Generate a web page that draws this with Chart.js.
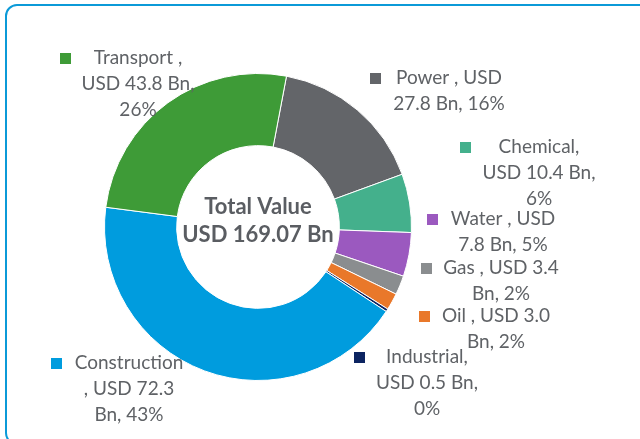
<!DOCTYPE html>
<html>
<head>
<meta charset="utf-8">
<script src="https://cdn.jsdelivr.net/npm/chart.js@4"></script>
<style>
  html, body { margin: 0; padding: 0; background: #fff; overflow: hidden; }
  #wrap { position: relative; width: 640px; height: 439px; overflow: hidden; }
  #frame {
    position: absolute; left: 5px; top: 4px; width: 680px; height: 441px;
    border: 2px solid #0b9ad8; border-radius: 12px; box-sizing: border-box;
  }
  canvas { position: absolute; left: 0; top: 0; }
</style>
</head>
<body>
<div id="wrap">
  <div id="frame"></div>
  <canvas id="chart" width="640" height="439"></canvas>
</div>
<script>
const sectors = ['Power', 'Chemical', 'Water', 'Gas', 'Oil', 'Industrial', 'Construction', 'Transport'];
const values = [27.8, 10.4, 7.8, 3.4, 3.0, 0.5, 72.3, 43.8];
const shares = ['16%', '6%', '5%', '2%', '2%', '0%', '43%', '26%'];
const colors = ['#636569', '#44b08c', '#9b59bf', '#8a8d8f', '#e9782a', '#0c2461', '#009cde', '#3e9b37'];
const totalText = ['Total Value', 'USD 169.07 Bn'];

// how each label wraps in the original
const labelLines = [
    ['Power , USD', '27.8 Bn, 16%'],
    ['Chemical,', 'USD 10.4 Bn,', '6%'],
    ['Water , USD', '7.8 Bn, 5%'],
    ['Gas , USD 3.4', 'Bn, 2%'],
    ['Oil , USD 3.0', 'Bn, 2%'],
    ['Industrial,', 'USD 0.5 Bn,', '0%'],
    ['Construction', ', USD 72.3', 'Bn, 43%'],
    ['Transport ,', 'USD 43.8 Bn,', '26%'],
];
// label box placement: text centre x, first line y, legend square left x
const labelPos = [
    {x: 449, y: 78, sx: 370},
    {x: 539, y: 147, sx: 460},
    {x: 503, y: 219, sx: 427},
    {x: 501, y: 268, sx: 421},
    {x: 496, y: 316, sx: 419},
    {x: 427, y: 357, sx: 354},
    {x: 129, y: 363, sx: 51},
    {x: 138, y: 58, sx: 60},
];

const textColor = '#5f6266';

const labelsPlugin = {
    id: 'outsideLabels',
    afterDraw(chart) {
        const ctx = chart.ctx;
        const arc = chart.getDatasetMeta(0).data[0];
        ctx.save();
        ctx.textBaseline = 'middle';
        ctx.textAlign = 'center';

        // centre text
        ctx.fillStyle = '#5a5d62';
        ctx.font = 'bold 22px Lato';
        ctx.fillText(totalText[0], arc.x, arc.y - 20);
        ctx.fillText(totalText[1], arc.x, arc.y + 8);

        ctx.font = '19px Lato';
        labelLines.forEach((lines, i) => {
            const p = labelPos[i];
            ctx.fillStyle = colors[i];
            ctx.fillRect(p.sx, p.y - 5, 11, 11);
            ctx.fillStyle = textColor;
            lines.forEach((line, j) => {
                ctx.fillText(line, p.x, p.y + j * 26);
            });
        });
        ctx.restore();
    }
};

const chart = new Chart(document.getElementById('chart'), {
    type: 'doughnut',
    data: {
        labels: sectors,
        datasets: [{
            data: values,
            backgroundColor: colors,
            borderColor: '#ffffff',
            borderWidth: 1,
            hoverOffset: 0,
        }],
    },
    options: {
        responsive: false,
        animation: false,
        rotation: 10.7,
        cutout: '53%',
        layout: {
            padding: {left: 104, right: 228, top: 73, bottom: 58},
        },
        plugins: {
            legend: {display: false},
            tooltip: {enabled: false},
        },
    },
    plugins: [labelsPlugin],
});
</script>
</body>
</html>
